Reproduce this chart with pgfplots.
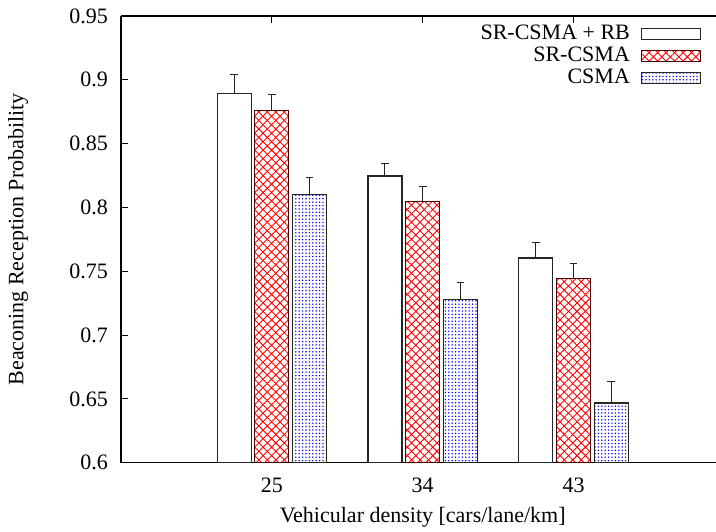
\documentclass[border=0pt]{standalone}
\usepackage{fontspec}
\setmainfont{Liberation Serif}
\usepackage{pgfplots}
\pgfplotsset{compat=1.18}
\usepackage{pgfplotstable}
\usetikzlibrary{patterns,patterns.meta}

\pgfplotstableread{
x y e
0.75 0.8894 0.0144
1.75 0.8246 0.0100
2.75 0.7604 0.0125
}\rb
\pgfplotstableread{
x y e
1 0.8758 0.0128
2 0.8048 0.0118
3 0.7445 0.0117
}\sr
\pgfplotstableread{
x y e
1.25 0.8100 0.0136
2.25 0.7280 0.0133
3.25 0.6468 0.0172
}\cs

\begin{document}
\fontsize{11}{13}\selectfont
\begin{tikzpicture}[font=\fontsize{11}{13}\selectfont]
\begin{axis}[
  name=ax,
  scale only axis,
  width=301.7pt, height=223.35pt,
  xmin=0, xmax=4,
  ymin=0.6, ymax=0.95,
  axis x line*=box,
  axis y line*=left,
  axis line style={line width=0.6pt},
  xtick={1,2,3},
  xticklabels={25,34,43},
  xtick pos=right,
  xticklabel pos=left,
  ytick={0.6,0.65,0.7,0.75,0.8,0.85,0.9,0.95},
  yticklabels={0.6,0.65,0.7,0.75,0.8,0.85,0.9,0.95},
  ytick pos=left,
  tick align=inside,
  major tick length=3.5pt,
  tick style={line width=0.5pt, black},
  /pgf/number format/assume math mode=true,
  every x tick label/.append style={anchor=base, yshift=-14.8pt},
  every y tick label/.append style={xshift=-2.7pt},
  xlabel={Vehicular density [cars/lane/km]},
  ylabel={Beaconing Reception Probability},
  xlabel style={at={(axis description cs:0.5,-0.135)}, anchor=base},
  ylabel style={at={(axis description cs:-0.1707,0.5)}, anchor=center},
  legend cell align=right,
  legend plot pos=right,
  legend style={at={(rel axis cs:0.972,0.996)}, anchor=north east, draw=none, fill=none,
    row sep=-1pt, column sep=3.5pt, nodes={inner ysep=1.5pt}},
  legend image code/.code={\draw[#1] (0pt,-2.75pt) rectangle (29.5pt,2.75pt);},
  errstyle/.style={error bars/.cd, y dir=plus, y explicit,
    error bar style={line width=0.5pt, black!85},
    error mark options={rotate=90, line width=0.5pt, black!85, mark size=1.9pt}},
]
\addplot[ybar, bar width=17pt, bar shift=0pt, draw=black!85, line width=0.6pt, fill=white, errstyle]
  table[x=x, y=y, y error=e] {\rb};
\addlegendentry{SR-CSMA + RB}
\addplot[ybar, bar width=17pt, bar shift=0pt, draw=black!70!red, line width=0.6pt,
  pattern={Lines[angle=45,distance=3pt,line width=0.45pt]}, pattern color=red,
  postaction={pattern={Lines[angle=-45,distance=3pt,line width=0.45pt]}, pattern color=red},
  errstyle]
  table[x=x, y=y, y error=e] {\sr};
\addlegendentry{SR-CSMA}
\addplot[ybar, bar width=17pt, bar shift=0pt, draw=black!85, line width=0.6pt,
  pattern={Dots[distance=1.7pt, radius=0.4pt]}, pattern color=blue, errstyle]
  table[x=x, y=y, y error=e] {\cs};
\addlegendentry{CSMA}
\end{axis}
\pgfresetboundingbox
\path ([shift={(-60.5pt,-34.65pt)}]ax.south west) rectangle ([shift={(297.5pt,8pt)}]ax.north west);
\end{tikzpicture}
\end{document}
